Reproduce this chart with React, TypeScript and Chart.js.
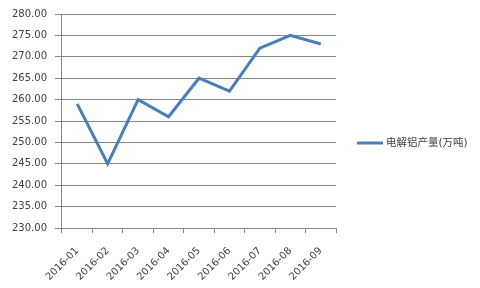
import React, { useEffect, useRef } from "react";
import { Chart, registerables } from "chart.js";

Chart.register(...registerables);

const categories = ["2016-01", "2016-02", "2016-03", "2016-04", "2016-05", "2016-06", "2016-07", "2016-08", "2016-09"];
const seriesName = "电解铝产量(万吨)";
const values = [259, 245, 260, 256, 265, 262, 272, 275, 273];
const yMin = 230;
const yMax = 280;
const yStep = 5;

const FONT = "'DejaVu Sans', 'Noto Sans CJK SC', sans-serif";
const GRID = "#868686";
const TEXT = "#404040";
const LINE = "#4A7EBB";

const rightLegend = {
  id: "rightLegend",
  afterDraw(chart: any) {
    const ctx = chart.ctx;
    const ds = chart.data.datasets[0];
    const y = 143;
    const x0 = chart.chartArea.right + 21;
    ctx.save();
    ctx.strokeStyle = ds.borderColor;
    ctx.lineWidth = 3;
    ctx.beginPath();
    ctx.moveTo(x0, y);
    ctx.lineTo(x0 + 26, y);
    ctx.stroke();
    ctx.fillStyle = TEXT;
    ctx.font = `10.5px ${FONT}`;
    ctx.textAlign = "left";
    ctx.textBaseline = "middle";
    ctx.fillText(ds.label, x0 + 29, y);
    ctx.restore();
  },
};

export default function App() {
  const ref = useRef<HTMLCanvasElement | null>(null);
  useEffect(() => {
    document.body.style.margin = "0";
    if (!ref.current) return;
    const chart = new Chart(ref.current, {
      type: "line",
      data: {
        labels: categories,
        datasets: [
          {
            label: seriesName,
            data: values,
            borderColor: LINE,
            backgroundColor: LINE,
            borderWidth: 3,
            pointRadius: 0,
            pointHoverRadius: 0,
            tension: 0,
          },
        ],
      },
      options: {
        animation: false,
        responsive: false,
        maintainAspectRatio: false,
        layout: { padding: { top: 11, left: 4, right: 144, bottom: 0 } },
        plugins: {
          tooltip: { enabled: false },
          legend: { display: false },
        },
        scales: {
          x: {
            offset: true,
            afterFit: (scale: any) => {
              scale.height = 60;
            },
            grid: {
              offset: true,
              drawOnChartArea: false,
              drawTicks: true,
              tickLength: 5,
              color: GRID,
            },
            border: { color: GRID },
            ticks: {
              font: { family: FONT, size: 10 },
              color: TEXT,
              maxRotation: 45,
              minRotation: 45,
              autoSkip: false,
              padding: 12,
            },
          },
          y: {
            min: yMin,
            max: yMax,
            grid: { color: GRID, tickLength: 7, drawTicks: true },
            border: { color: GRID },
            ticks: {
              stepSize: yStep,
              font: { family: FONT, size: 10 },
              color: TEXT,
              padding: 8,
              callback: (v: any) => Number(v).toFixed(2),
            },
          },
        },
      },
      plugins: [rightLegend],
    });
    return () => chart.destroy();
  }, []);
  return (
    <div style={{ width: 480, height: 288, background: "#fff" }}>
      <canvas ref={ref} width={480} height={288} style={{ display: "block" }} />
    </div>
  );
}
